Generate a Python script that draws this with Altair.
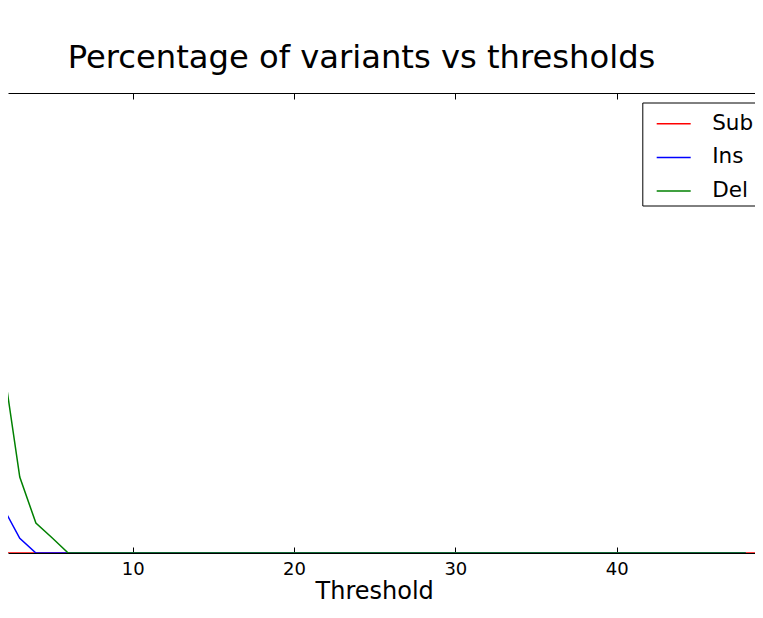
import altair as alt
import pandas as pd

# ---- data ----
series_names = ["Sub", "Ins", "Del"]
series_colors = ["#ff0000", "#0000ff", "#008000"]
tick_values = [10, 20, 30, 40]

sub_thresholds = list(range(1, 51))
sub_pct = [0, 0, 0, 0, 0, 0, 0, 0, 0, 0,
           0, 0, 0, 0, 0, 0, 0, 0, 0, 0,
           0, 0, 0, 0, 0, 0, 0, 0, 0, 0,
           0, 0, 0, 0, 0, 0, 0, 0, 0, 0,
           0, 0, 0, 0, 0, 0, 0, 0, 0, 0]

ins_thresholds = list(range(1, 49))
ins_pct = [30.4, 9.7, 3.2, 0, 0, 0, 0, 0, 0, 0,
           0, 0, 0, 0, 0, 0, 0, 0, 0, 0,
           0, 0, 0, 0, 0, 0, 0, 0, 0, 0,
           0, 0, 0, 0, 0, 0, 0, 0, 0, 0,
           0, 0, 0, 0, 0, 0, 0, 0]

del_thresholds = list(range(1, 49))
del_pct = [100, 40.5, 16.5, 6.5, 3.3, 0, 0, 0, 0, 0,
           0, 0, 0, 0, 0, 0, 0, 0, 0, 0,
           0, 0, 0, 0, 0, 0, 0, 0, 0, 0,
           0, 0, 0, 0, 0, 0, 0, 0, 0, 0,
           0, 0, 0, 0, 0, 0, 0, 0]

rows = []
for name, xs, ys in [("Sub", sub_thresholds, sub_pct),
                     ("Ins", ins_thresholds, ins_pct),
                     ("Del", del_thresholds, del_pct)]:
    for xv, yv in zip(xs, ys):
        rows.append({"series": name, "threshold": xv, "pct": yv})
df = pd.DataFrame(rows)

FONT = "DejaVu Sans"
W, H = 747, 460

xscale = alt.Scale(domain=[2.2705, 48.573], nice=False, zero=False)
yscale = alt.Scale(domain=[0, 100], nice=False, zero=True)

axis_labels = alt.Axis(orient="bottom", domain=True, domainColor="black", domainWidth=1,
                       ticks=False, tickSize=0, values=tick_values, grid=False,
                       labelFont=FONT, labelFontSize=18, labelColor="black",
                       labelBaseline="alphabetic", labelPadding=21, labelFlush=False,
                       labelOverlap=False,
                       title="Threshold", titleFont=FONT, titleFontSize=24,
                       titleFontWeight="normal", titleColor="black",
                       titleX=366.2, titleY=45.3, titleAlign="center",
                       titleBaseline="alphabetic")
axis_bottom_ticks = alt.Axis(orient="top", offset=-H, domain=False, labels=False,
                             ticks=True, tickSize=6, tickColor="black", tickWidth=1,
                             values=tick_values, grid=False, title=None)
axis_top = alt.Axis(orient="bottom", offset=-H, domain=True, domainColor="black",
                    domainWidth=1, labels=False, ticks=True, tickSize=6,
                    tickColor="black", tickWidth=1, values=tick_values, grid=False,
                    title=None)

color = alt.Color("series:N",
                  scale=alt.Scale(domain=series_names, range=series_colors),
                  legend=alt.Legend(orient="none", legendX=634.3, legendY=9.5,
                                    title=None, strokeColor="black", fillColor="white",
                                    padding=3.3, symbolType="stroke", symbolSize=1156,
                                    symbolStrokeWidth=1.5, symbolOffset=10.1,
                                    labelFont=FONT, labelFontSize=21.5, labelColor="black",
                                    labelOffset=20.5, rowPadding=4.6, cornerRadius=0))

base = alt.Chart(df).mark_line(clip=True, strokeWidth=1.5)

def layer(name, axis):
    return base.transform_filter(alt.datum.series == name).encode(
        x=alt.X("threshold:Q", scale=xscale, axis=axis),
        y=alt.Y("pct:Q", scale=yscale, axis=None),
        color=color,
    )

chart = alt.layer(
    layer("Sub", axis_labels),
    layer("Ins", axis_bottom_ticks),
    layer("Del", axis_top),
).resolve_axis(x="independent").properties(
    width=W, height=H,
    autosize=alt.AutoSizeParams(type="none"),
    padding={"left": 0, "top": 85, "right": 0, "bottom": 52},
    title=alt.TitleParams("Percentage of variants vs thresholds", font=FONT,
                          fontSize=32.2, fontWeight="normal", color="black",
                          anchor="middle", dx=-20, dy=33.1, baseline="alphabetic",
                          offset=25, frame="group"),
).configure(
    background="white",
    view=alt.ViewConfig(strokeWidth=0, stroke="transparent"),
)

chart.save("out.html", embed_options={"renderer": "svg", "actions": False})
